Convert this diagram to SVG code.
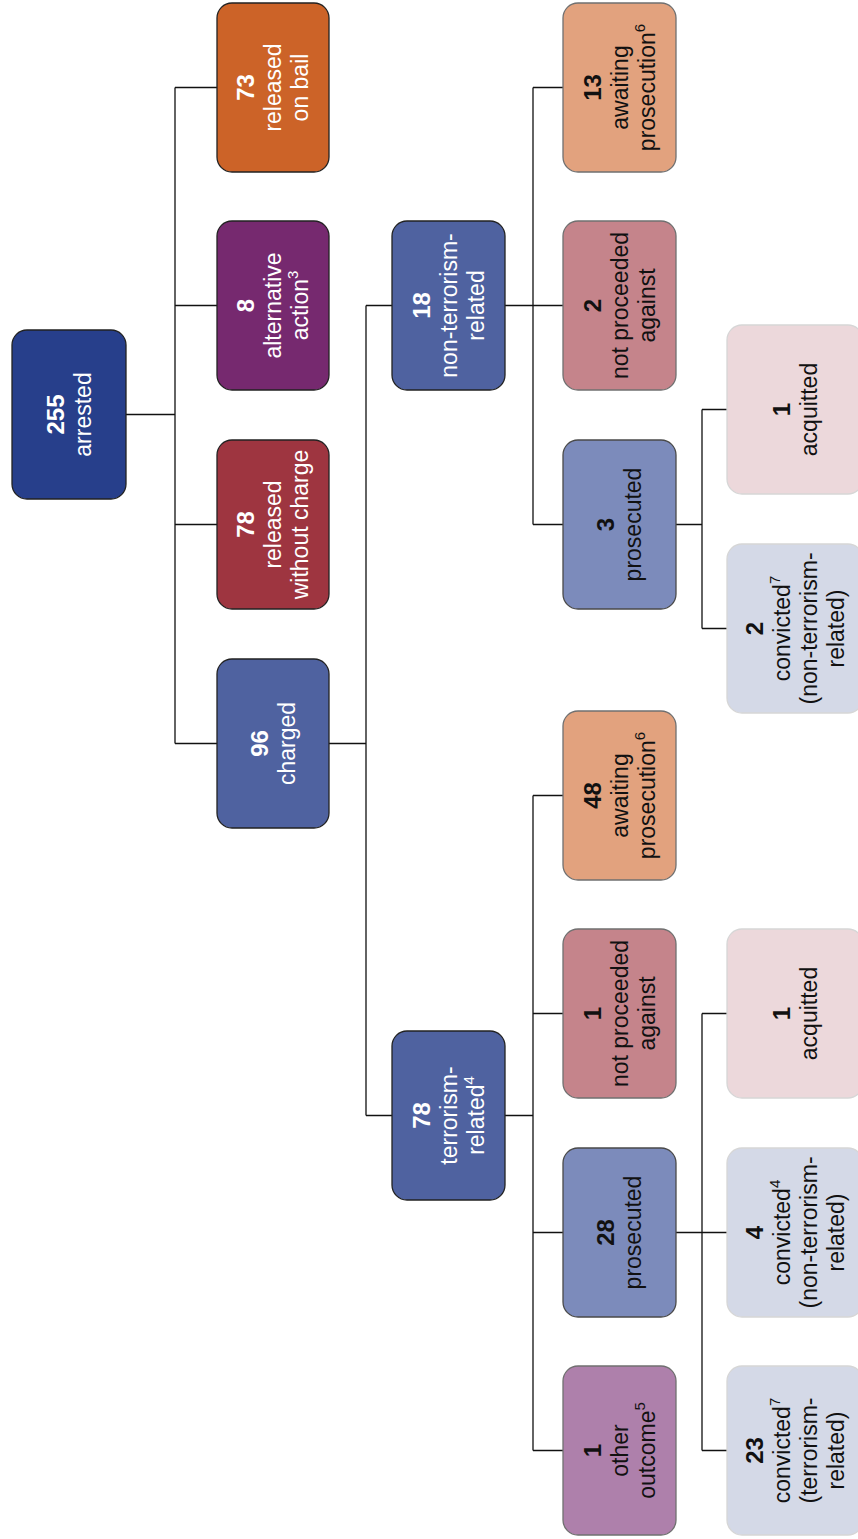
<svg xmlns="http://www.w3.org/2000/svg" width="858" height="1539" viewBox="0 0 858 1539">
<style>
.box{stroke-width:1.3}
.dk{stroke:#222}
.md{stroke:#4a4a4a}
.lt{stroke:#707070}
.xl{stroke:#d6d6d6}
text{font-family:"Liberation Sans",Arial,sans-serif;font-size:23px;text-anchor:middle}
.w{fill:#ffffff}
.b{fill:#111111}
.n{font-weight:bold;font-size:24px}
.s{font-size:15px}
.conn{fill:none;stroke:#111;stroke-width:1.3}
</style>
<rect width="858" height="1539" fill="#ffffff"/>
<g id="connectors" class="conn">
<path d="M126,414.5H175M175,87.5V743.5M175,87.5H217M175,305.5H217M175,524.5H217M175,743.5H217"/>
<path d="M329,743.5H366M366,305.5V1115.5M366,305.5H392M366,1115.5H392"/>
<path d="M505,305.5H533M533,87.5V524.5M533,87.5H563M533,305.5H563M533,524.5H563"/>
<path d="M676,524.5H702M702,409.5V628.5M702,409.5H727M702,628.5H727"/>
<path d="M505,1115.5H533M533,795.5V1450.5M533,795.5H563M533,1013.5H563M533,1232.5H563M533,1450.5H563"/>
<path d="M676,1232.5H702M702,1013.5V1450.5M702,1013.5H727M702,1232.5H727M702,1450.5H727"/>
</g>
<g id="arrested">
<rect class="box dk" x="12" y="330" width="114" height="169" rx="15" fill="#273f8b"/>
<text class="w" transform="translate(69,414.5) rotate(-90)"><tspan class="n" x="0" y="-5.5">255</tspan><tspan x="0" y="21.5">arrested</tspan></text>
</g>
<g id="released-on-bail">
<rect class="box dk" x="217" y="3" width="112" height="169" rx="15" fill="#cc6328"/>
<text class="w" transform="translate(273,87.5) rotate(-90)"><tspan class="n" x="0" y="-19">73</tspan><tspan x="0" y="8">released</tspan><tspan x="0" y="35">on bail</tspan></text>
</g>
<g id="alternative-action">
<rect class="box dk" x="217" y="221" width="112" height="169" rx="15" fill="#76296f"/>
<text class="w" transform="translate(273,305.5) rotate(-90)"><tspan class="n" x="0" y="-19">8</tspan><tspan x="0" y="8">alternative</tspan><tspan x="0" y="35">action<tspan class="s" dy="-10">3</tspan></tspan></text>
</g>
<g id="released-without-charge">
<rect class="box dk" x="217" y="440" width="112" height="169" rx="15" fill="#9e3540"/>
<text class="w" transform="translate(273,524.5) rotate(-90)"><tspan class="n" x="0" y="-19">78</tspan><tspan x="0" y="8">released</tspan><tspan x="0" y="35">without charge</tspan></text>
</g>
<g id="charged">
<rect class="box dk" x="217" y="659" width="112" height="169" rx="15" fill="#4f62a0"/>
<text class="w" transform="translate(273,743.5) rotate(-90)"><tspan class="n" x="0" y="-5.5">96</tspan><tspan x="0" y="21.5">charged</tspan></text>
</g>
<g id="non-terrorism-related">
<rect class="box dk" x="392" y="221" width="113" height="169" rx="15" fill="#4f62a0"/>
<text class="w" transform="translate(448.5,305.5) rotate(-90)"><tspan class="n" x="0" y="-19">18</tspan><tspan x="0" y="8">non-terrorism-</tspan><tspan x="0" y="35">related</tspan></text>
</g>
<g id="terrorism-related">
<rect class="box dk" x="392" y="1031" width="113" height="169" rx="15" fill="#4f62a0"/>
<text class="w" transform="translate(448.5,1115.5) rotate(-90)"><tspan class="n" x="0" y="-19">78</tspan><tspan x="0" y="8">terrorism-</tspan><tspan x="0" y="35">related<tspan class="s" dy="-10">4</tspan></tspan></text>
</g>
<g id="awaiting-13">
<rect class="box lt" x="563" y="3" width="113" height="169" rx="15" fill="#e2a27e"/>
<text class="b" transform="translate(619.5,87.5) rotate(-90)"><tspan class="n" x="0" y="-19">13</tspan><tspan x="0" y="8">awaiting</tspan><tspan x="0" y="35">prosecution<tspan class="s" dy="-10">6</tspan></tspan></text>
</g>
<g id="not-proceeded-2">
<rect class="box lt" x="563" y="221" width="113" height="169" rx="15" fill="#c5848b"/>
<text class="b" transform="translate(619.5,305.5) rotate(-90)"><tspan class="n" x="0" y="-19">2</tspan><tspan x="0" y="8">not proceeded</tspan><tspan x="0" y="35">against</tspan></text>
</g>
<g id="prosecuted-3">
<rect class="box md" x="563" y="440" width="113" height="169" rx="15" fill="#7c8bbb"/>
<text class="b" transform="translate(619.5,524.5) rotate(-90)"><tspan class="n" x="0" y="-5.5">3</tspan><tspan x="0" y="21.5">prosecuted</tspan></text>
</g>
<g id="acquitted-1a">
<rect class="box xl" x="727" y="325" width="136" height="169" rx="15" fill="#ecd8db"/>
<text class="b" transform="translate(795,409.5) rotate(-90)"><tspan class="n" x="0" y="-5.5">1</tspan><tspan x="0" y="21.5">acquitted</tspan></text>
</g>
<g id="convicted-2">
<rect class="box xl" x="727" y="544" width="136" height="169" rx="15" fill="#d4d9e7"/>
<text class="b" transform="translate(795,628.5) rotate(-90)"><tspan class="n" x="0" y="-32.5">2</tspan><tspan x="0" y="-5.5">convicted<tspan class="s" dy="-10">7</tspan></tspan><tspan x="0" y="21.5">(non-terrorism-</tspan><tspan x="0" y="48.5">related)</tspan></text>
</g>
<g id="awaiting-48">
<rect class="box lt" x="563" y="711" width="113" height="169" rx="15" fill="#e2a27e"/>
<text class="b" transform="translate(619.5,795.5) rotate(-90)"><tspan class="n" x="0" y="-19">48</tspan><tspan x="0" y="8">awaiting</tspan><tspan x="0" y="35">prosecution<tspan class="s" dy="-10">6</tspan></tspan></text>
</g>
<g id="not-proceeded-1">
<rect class="box lt" x="563" y="929" width="113" height="169" rx="15" fill="#c5848b"/>
<text class="b" transform="translate(619.5,1013.5) rotate(-90)"><tspan class="n" x="0" y="-19">1</tspan><tspan x="0" y="8">not proceeded</tspan><tspan x="0" y="35">against</tspan></text>
</g>
<g id="prosecuted-28">
<rect class="box md" x="563" y="1148" width="113" height="169" rx="15" fill="#7c8bbb"/>
<text class="b" transform="translate(619.5,1232.5) rotate(-90)"><tspan class="n" x="0" y="-5.5">28</tspan><tspan x="0" y="21.5">prosecuted</tspan></text>
</g>
<g id="other-outcome">
<rect class="box lt" x="563" y="1366" width="113" height="169" rx="15" fill="#ae80ab"/>
<text class="b" transform="translate(619.5,1450.5) rotate(-90)"><tspan class="n" x="0" y="-19">1</tspan><tspan x="0" y="8">other</tspan><tspan x="0" y="35">outcome<tspan class="s" dy="-10">5</tspan></tspan></text>
</g>
<g id="acquitted-1b">
<rect class="box xl" x="727" y="929" width="136" height="169" rx="15" fill="#ecd8db"/>
<text class="b" transform="translate(795,1013.5) rotate(-90)"><tspan class="n" x="0" y="-5.5">1</tspan><tspan x="0" y="21.5">acquitted</tspan></text>
</g>
<g id="convicted-4">
<rect class="box xl" x="727" y="1148" width="136" height="169" rx="15" fill="#d4d9e7"/>
<text class="b" transform="translate(795,1232.5) rotate(-90)"><tspan class="n" x="0" y="-32.5">4</tspan><tspan x="0" y="-5.5">convicted<tspan class="s" dy="-10">4</tspan></tspan><tspan x="0" y="21.5">(non-terrorism-</tspan><tspan x="0" y="48.5">related)</tspan></text>
</g>
<g id="convicted-23">
<rect class="box xl" x="727" y="1366" width="136" height="169" rx="15" fill="#d4d9e7"/>
<text class="b" transform="translate(795,1450.5) rotate(-90)"><tspan class="n" x="0" y="-32.5">23</tspan><tspan x="0" y="-5.5">convicted<tspan class="s" dy="-10">7</tspan></tspan><tspan x="0" y="21.5">(terrorism-</tspan><tspan x="0" y="48.5">related)</tspan></text>
</g>
</svg>
